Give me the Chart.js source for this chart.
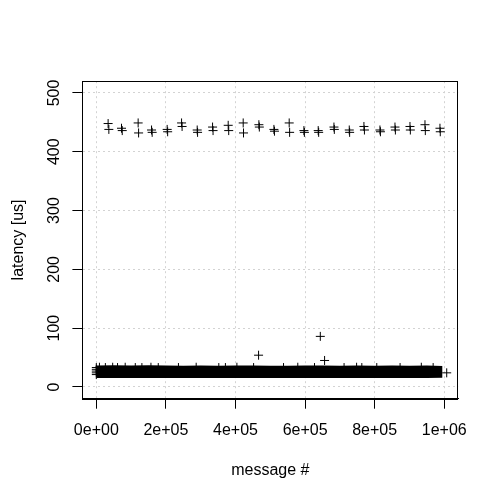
<!DOCTYPE html>
<html>
<head>
<meta charset="utf-8">
<script src="https://cdn.jsdelivr.net/npm/chart.js@4/dist/chart.umd.min.js"></script>
<style>
  html, body { margin: 0; padding: 0; background: #fff; }
  #wrap { width: 500px; height: 500px; }
</style>
</head>
<body>
<div id="wrap"><canvas id="latencyChart" width="500" height="500"></canvas></div>
<script>
// ---------------- Daten ----------------
const xTickValues = [0, 200000, 400000, 600000, 800000, 1000000];
const xTickLabels = ["0e+00", "2e+05", "4e+05", "6e+05", "8e+05", "1e+06"];
const yTickValues = [0, 100, 200, 300, 400, 500];
const yTickLabels = ["0", "100", "200", "300", "400", "500"];

// periodische Ausreisser (~440 us), je zwei Messungen pro Gruppe
const highMsg = [
    33900, 36000, 72400, 74500, 120200, 121500, 158700, 160500, 203600, 205000,
    245000, 246500, 289900, 291000, 334100, 335500, 379000, 380500, 422100, 423000,
    467200, 468500, 510400, 512000, 554300, 555500, 596600, 598000, 637700, 639000,
    682900, 684000, 726900, 728000, 769100, 770500, 815100, 816500, 858300, 859500,
    901400, 902500, 944500, 945500, 987600, 988500
];
const highLat = [
    448, 438, 440, 436, 449, 432, 437, 433, 438, 434,
    449, 443, 437, 433, 442, 436, 445, 436, 449, 432,
    446, 442, 438, 435, 449, 433, 436, 433, 436, 433,
    442, 438, 437, 433, 443, 437, 437, 434, 442, 437,
    443, 437, 446, 436, 440, 434
];

// einzelne Ausreisser knapp ueber dem Grundrauschen
const midMsg = [466300, 643700, 656000, 763000, 1007000];
const midLat = [54, 86, 45, 33, 24];

// Grundrauschen: Huelle der dichten Punktwolke
const bandMsg = [0, 50000, 100000, 150000, 200000, 250000, 300000, 350000, 400000, 450000,
    500000, 550000, 600000, 650000, 700000, 750000, 800000, 850000, 900000, 950000, 995000];
const bandTop = [36.5, 36.8, 36.4, 36.7, 36.3, 36.2, 36.4, 36.1, 36.3, 36.5,
    36.2, 36.0, 36.3, 36.4, 36.1, 36.3, 36.2, 36.4, 36.1, 36.3, 35.8];
const bandBottom = [15.3, 15.2, 15.3, 15.1, 15.3, 15.2, 15.3, 15.2, 15.3, 15.2,
    15.3, 15.2, 15.3, 15.2, 15.3, 15.2, 15.3, 15.2, 15.3, 15.2, 15.6];

// einzelne Spitzen an der Oberkante + linker Rand
const edgeMsg = [0, 0, 0, 0, 0, 9000, 26000, 47000, 61000, 83000, 112000, 131000, 157000,
    178000, 236000, 287000, 352000, 371000, 404000, 452000, 538000, 579000,
    627000, 712000, 748000, 806000, 873000, 934000, 968000];
const edgeLat = [21, 24, 27, 30, 33, 33.5, 33, 33.5, 33, 33.5, 33, 33, 33.5,
    33, 33, 33.5, 33, 33, 33.5, 33, 33, 33.5,
    33, 33, 33.5, 33, 33, 33.5, 33];

const toPoints = (xs, ys) => xs.map((x, i) => ({ x: x, y: ys[i] }));

// ---------------- Rahmen (R-Stil Box) ----------------
const boxPlugin = {
    id: "box",
    afterDatasetsDraw(chart) {
        const a = chart.chartArea;
        const ctx = chart.ctx;
        ctx.save();
        ctx.strokeStyle = "#000";
        ctx.lineWidth = 1;
        ctx.strokeRect(Math.round(a.left) + 0.5, Math.round(a.top) + 0.5,
            Math.round(a.right - a.left) - 1, Math.round(a.bottom - a.top));
        ctx.restore();
    }
};

const FONT = { family: "'Liberation Sans', Arial, sans-serif", size: 16 };
const plusStyle = {
    showLine: false,
    pointStyle: "cross",
    pointRadius: 4.5,
    pointBorderWidth: 1,
    pointBorderColor: "#000",
    pointBackgroundColor: "#000",
    pointHoverRadius: 4.5
};

new Chart(document.getElementById("latencyChart"), {
    type: "line",
    data: {
        datasets: [
            Object.assign({ data: toPoints(highMsg, highLat), order: 1 }, plusStyle),
            Object.assign({ data: toPoints(midMsg, midLat), order: 1 }, plusStyle),
            Object.assign({ data: toPoints(edgeMsg, edgeLat), order: 1 }, plusStyle),
            {
                data: toPoints(bandMsg, bandTop),
                borderWidth: 0,
                pointRadius: 0,
                backgroundColor: "#000",
                fill: "+1",
                tension: 0,
                order: 2
            },
            {
                data: toPoints(bandMsg, bandBottom),
                borderWidth: 0,
                pointRadius: 0,
                fill: false,
                tension: 0,
                order: 2
            }
        ]
    },
    options: {
        responsive: false,
        animation: false,
        events: [],
        layout: { padding: { top: 81.2, right: 41.8, left: 0, bottom: 0 } },
        plugins: {
            legend: { display: false },
            tooltip: { enabled: false }
        },
        scales: {
            x: {
                type: "linear",
                min: -40000,
                max: 1040000,
                afterFit: s => { s.height = 101.3; },
                afterBuildTicks: s => { s.ticks = xTickValues.map(v => ({ value: v })); },
                ticks: {
                    autoSkip: false,
                    maxRotation: 0,
                    padding: 12,
                    color: "#000",
                    font: FONT,
                    callback: (v) => xTickLabels[xTickValues.indexOf(v)]
                },
                grid: {
                    color: "#d3d3d3",
                    tickColor: "#000",
                    tickLength: 10,
                    lineWidth: 1
                },
                border: { display: true, color: "#000", dash: [2, 3] },
                title: {
                    display: true,
                    text: "message #",
                    color: "#000",
                    font: FONT,
                    padding: { top: 0, bottom: 20 }
                }
            },
            y: {
                type: "linear",
                min: -20,
                max: 520,
                afterFit: s => { s.width = 82.4; },
                afterBuildTicks: s => { s.ticks = yTickValues.map(v => ({ value: v })); },
                ticks: {
                    autoSkip: false,
                    minRotation: 90,
                    maxRotation: 90,
                    crossAlign: "center",
                    padding: 4,
                    color: "#000",
                    font: FONT,
                    callback: (v) => yTickLabels[yTickValues.indexOf(v)]
                },
                grid: {
                    color: "#d3d3d3",
                    tickColor: "#000",
                    tickLength: 10,
                    lineWidth: 1
                },
                border: { display: true, color: "#000", dash: [2, 3] },
                title: {
                    display: true,
                    text: "latency [us]",
                    color: "#000",
                    font: FONT,
                    padding: { top: 9, bottom: 0 }
                }
            }
        }
    },
    plugins: [boxPlugin]
});
</script>
</body>
</html>
